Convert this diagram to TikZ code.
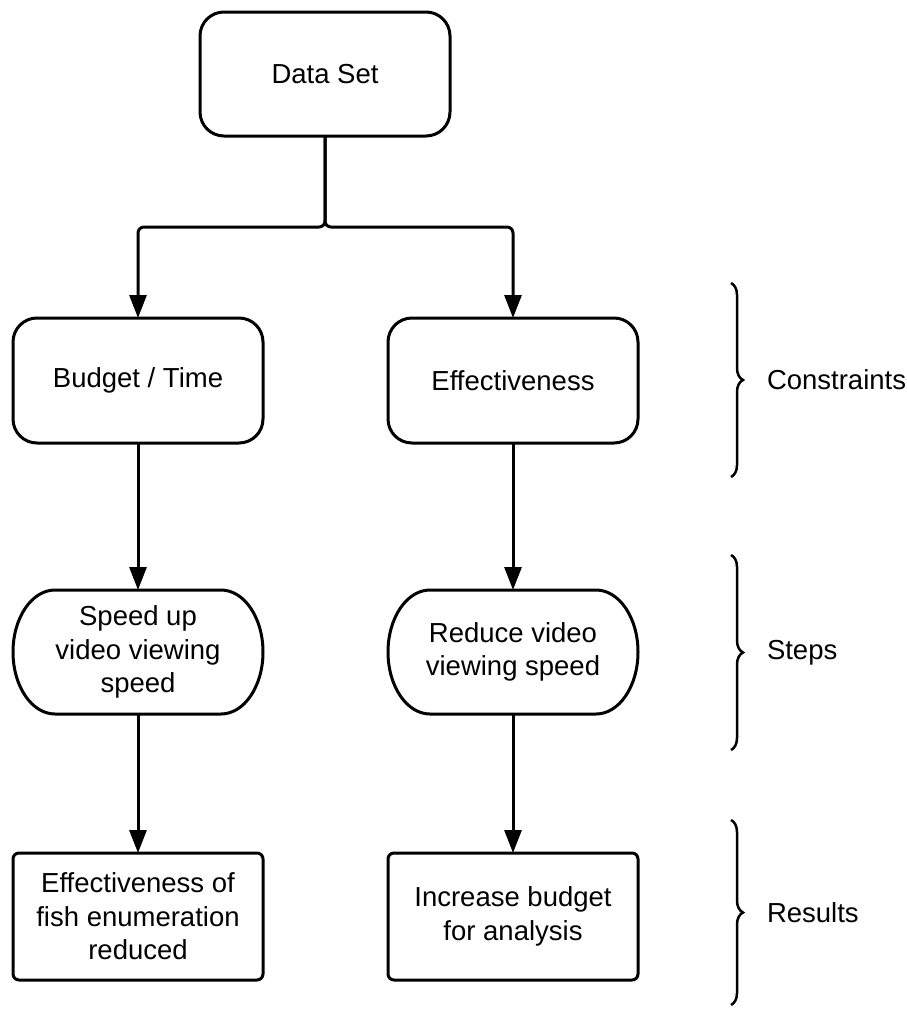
\documentclass[tikz,border=0pt]{standalone}
\usepackage{fontspec}
\setmainfont{Liberation Sans}
\usetikzlibrary{arrows.meta,decorations.pathreplacing}
\begin{document}
\begin{tikzpicture}[x=1pt,y=-1pt,
  every node/.style={font=\fontsize{27.5}{33.5}\selectfont, align=center, inner sep=0pt, outer sep=0pt},
  ln/.style={line width=3pt, draw=black},
  bigbox/.style={ln, rounded corners=24pt, minimum width=250pt, minimum height=125pt},
  resbox/.style={ln, rounded corners=6pt, minimum width=250pt, minimum height=127pt},
  stepshape/.style={minimum width=250pt, minimum height=124pt},
  conn/.style={ln, -{Triangle[length=23pt,width=17pt]}},
  bracestyle/.style={ln, line width=2.5pt, decorate, decoration={brace, amplitude=12pt}},
  lbl/.style={anchor=west}
]
\useasboundingbox (0,0) rectangle (906,1012);

\node[bigbox, minimum height=124pt] (ds) at (325,74) {Data Set};
\node[bigbox] (bt) at (138,380.5) {Budget / Time};
\node[bigbox] (ef) at (513,380.5) {Effectiveness};

\node[stepshape] (su) at (138,652) {Speed up\\video viewing\\speed};
\node[stepshape] (rv) at (513,652) {Reduce video\\viewing speed};
\foreach \n in {su,rv}{
  \draw[ln] ([xshift=42pt]\n.north west) -- ([xshift=-42pt]\n.north east)
    arc[start angle=90, end angle=-90, x radius=42pt, y radius=62pt]
    -- ([xshift=42pt]\n.south west)
    arc[start angle=270, end angle=90, x radius=42pt, y radius=62pt] -- cycle;
}

\node[resbox] (er) at (138,916.5) {Effectiveness of\\fish enumeration\\reduced};
\node[resbox] (ib) at (513,916.5) {Increase budget\\for analysis};

\coordinate (j) at (325,227);
\draw[conn, rounded corners=6pt] (ds.south) -- (j) -| (bt.north);
\draw[conn, rounded corners=6pt] (ds.south) -- (j) -| (ef.north);
\draw[conn] (bt.south) -- (su.north);
\draw[conn] (ef.south) -- (rv.north);
\draw[conn] (su.south) -- (er.north);
\draw[conn] (rv.south) -- (ib.north);

\coordinate (c1) at (731,283); \coordinate (c2) at (731,477);
\coordinate (s1) at (731,555); \coordinate (s2) at (731,750);
\coordinate (r1) at (731,820); \coordinate (r2) at (731,1005);
\draw[bracestyle] (c1) -- (c2);
\draw[bracestyle] (s1) -- (s2);
\draw[bracestyle] (r1) -- (r2);
\node[lbl] (lc) at (767,380) {Constraints};
\node[lbl] (ls) at (767,652.5) {Steps};
\node[lbl] (lr) at (767,912.5) {Results};
\end{tikzpicture}
\end{document}
